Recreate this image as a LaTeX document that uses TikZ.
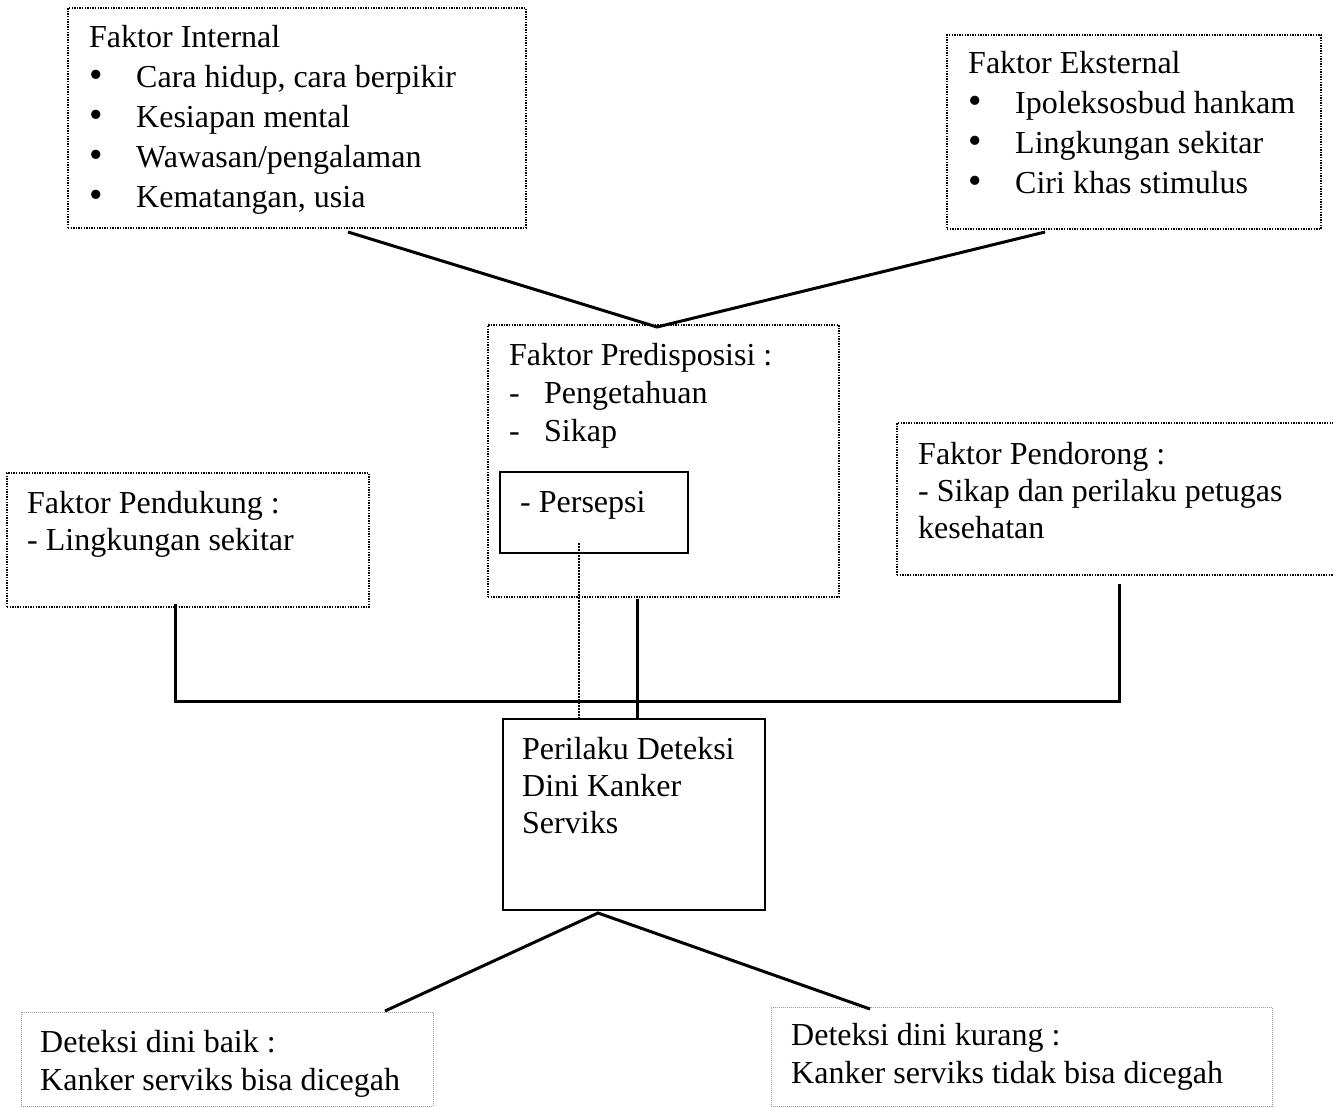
\documentclass[tikz,border=0pt]{standalone}
\usepackage{fontspec}
\setmainfont{Liberation Serif}
\begin{document}
\begin{tikzpicture}[x=1pt,y=-1pt,
  dotbox/.style={draw, line width=1.4pt, dash pattern=on 1.4pt off 1.2pt, inner sep=0pt, outer sep=0pt, anchor=north west},
  solidbox/.style={draw, line width=1.4pt, inner sep=0pt, outer sep=0pt, anchor=north west},
  lightbox/.style={draw=black!40, line width=1pt, dash pattern=on 1pt off 1pt, inner sep=0pt, outer sep=0pt, anchor=north west},
  txtA/.style={anchor=north west, align=left, inner sep=0pt, font=\fontsize{32}{40}\selectfont},
  txtB/.style={anchor=north west, align=left, inner sep=0pt, font=\fontsize{32}{38}\selectfont},
  txtC/.style={anchor=north west, align=left, inner sep=0pt, font=\fontsize{32}{37}\selectfont},
  txtD/.style={anchor=north west, align=left, inner sep=0pt, font=\fontsize{32}{38}\selectfont},
  conn/.style={line width=3pt},
  dconn/.style={line width=1.6pt, dash pattern=on 1.6pt off 1.4pt}]
\useasboundingbox (0,0) rectangle (1333,1108);
\fill[white] (0,0) rectangle (1333,1108);

\newcommand{\bul}{\makebox[47pt][l]{\raisebox{-0.5pt}{\scalebox{1.2}{\textbullet}}}}
\newcommand{\dsh}{\makebox[35pt][l]{-}}

% boxes
\node[dotbox, minimum width=458pt, minimum height=220pt] (int) at (68,8) {};
\node[dotbox, minimum width=374pt, minimum height=194pt] (eks) at (947,35) {};
\node[dotbox, minimum width=351pt, minimum height=272pt] (pre) at (488,325) {};
\node[solidbox, minimum width=188pt, minimum height=81pt] (per) at (500,472) {};
\node[dotbox, minimum width=362pt, minimum height=134pt] (pdk) at (7,473) {};
\node[dotbox, minimum width=440pt, minimum height=152pt] (pdr) at (897,423) {};
\node[solidbox, minimum width=262pt, minimum height=191pt] (pdd) at (503,719) {};
\node[lightbox, minimum width=412pt, minimum height=94pt] (baik) at (21,1012) {};
\node[lightbox, minimum width=501pt, minimum height=99pt] (krg) at (771,1007) {};

% texts
\node[txtA] (tint) at (89,19) {\strut Faktor Internal\\ \bul Cara hidup, cara berpikir\\ \bul Kesiapan mental\\ \bul Wawasan/pengalaman\\ \bul Kematangan, usia};
\node[txtA] (teks) at (968,45) {\strut Faktor Eksternal\\ \bul Ipoleksosbud hankam\\ \bul Lingkungan sekitar\\ \bul Ciri khas stimulus};
\node[txtB] (tpre) at (509,338.4) {\strut Faktor Predisposisi :\\ \dsh Pengetahuan\\ \dsh Sikap};
\node[txtA] (tper) at (520,484) {\strut - Persepsi};
\node[txtC] (tpdk) at (27,487.1) {\strut Faktor Pendukung :\\ - Lingkungan sekitar};
\node[txtC] (tpdr) at (918,438.1) {\strut Faktor Pendorong :\\ - Sikap dan perilaku petugas\\ kesehatan};
\node[txtC] (tpdd) at (522,733.1) {\strut Perilaku Deteksi\\ Dini Kanker\\ Serviks};
\node[txtD] (tbaik) at (40,1025.4) {\strut Deteksi dini baik :\\ Kanker serviks bisa dicegah};
\node[txtD] (tkrg) at (791,1018.4) {\strut Deteksi dini kurang :\\ Kanker serviks tidak bisa dicegah};

% connector points
\coordinate (i1) at (348,232);
\coordinate (e1) at (1045,232);
\coordinate (apex) at (657,327);
\coordinate (k1) at (175,604);
\coordinate (k2) at (175,701);
\coordinate (r1) at (1119,584);
\coordinate (r2) at (1119,701);
\coordinate (p1) at (637,599);
\coordinate (p2) at (637,719);
\coordinate (s1) at (579,543);
\coordinate (s2) at (579,719);
\coordinate (b0) at (598,913);
\coordinate (b1) at (385,1011);
\coordinate (b2) at (870,1009);

\draw[conn] (i1) -- (apex) -- (e1);
\draw[conn] (k1) -- (k2) -- (r2) -- (r1);
\draw[conn] (p1) -- (p2);
\draw[dconn] (s1) -- (s2);
\draw[conn] (b1) -- (b0) -- (b2);
\end{tikzpicture}
\end{document}
